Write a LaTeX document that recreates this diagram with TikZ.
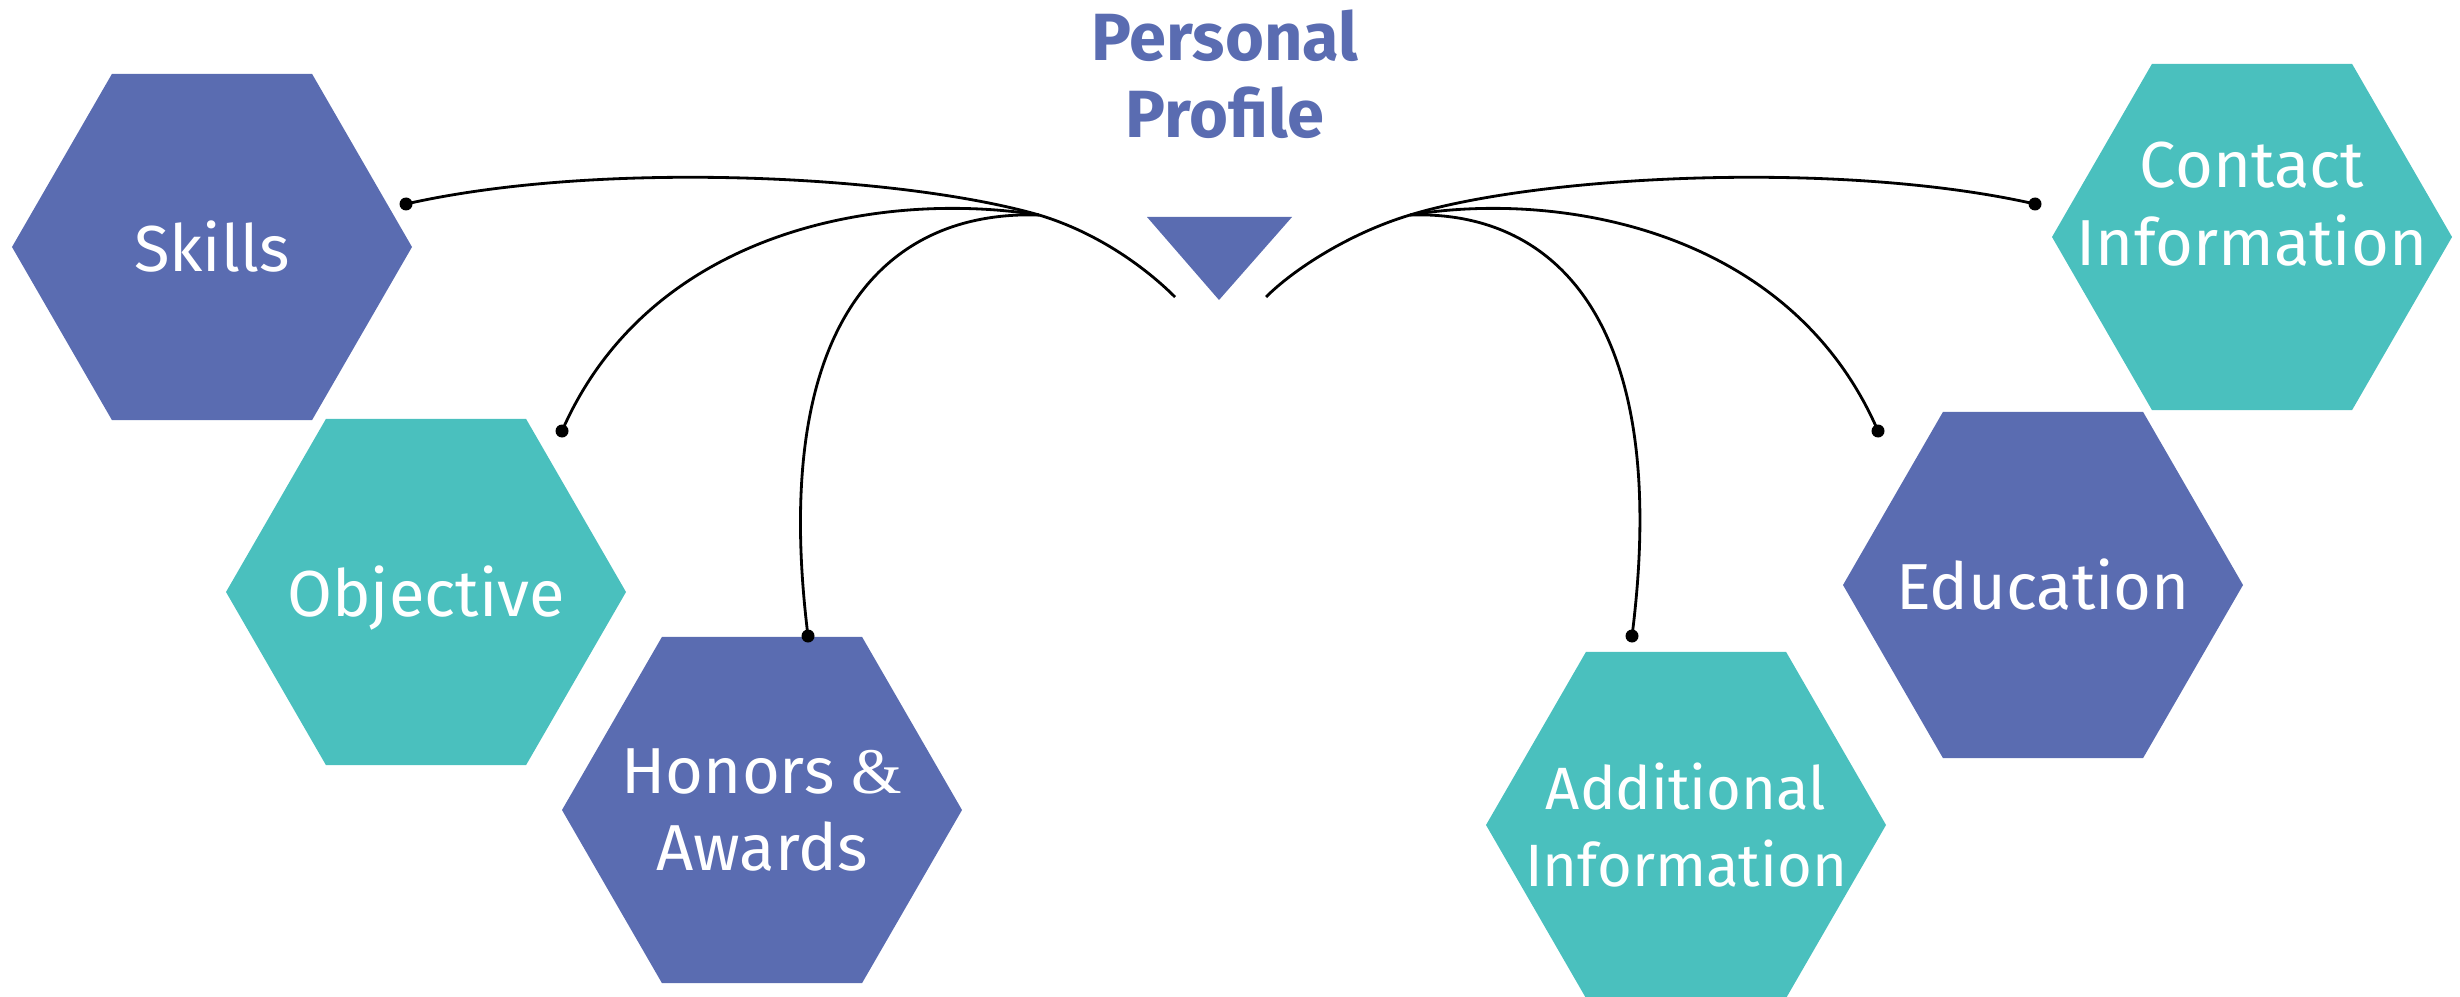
\documentclass[tikz,border=0pt]{standalone}
\usepackage{fontspec}
\setmainfont{Fira Sans}
\newfontfamily\ampfont{Liberation Serif}
\usetikzlibrary{shapes.geometric}

\definecolor{hexblue}{RGB}{90,108,177}
\definecolor{hexteal}{RGB}{74,192,190}

\tikzset{
	hexbox/.style={regular polygon, regular polygon sides=6, minimum size=4cm,
		inner sep=0pt, outer sep=0pt, draw=none},
	hextext/.style={text=white, align=center, font=\fontsize{18.5}{22}\selectfont},
	smalltext/.style={hextext, font=\fontsize{17}{22}\selectfont},
	titletext/.style={text=hexblue, align=center, font=\bfseries\fontsize{19}{22}\selectfont},
	link/.style={line width=0.8pt, black}
}

\begin{document}
\begin{tikzpicture}
			\useasboundingbox (0,0) rectangle (24.6,-9.96);
			% hexagons
			\node[hexbox, fill=hexblue, label={[hextext]center:Skills}] (skills) at (2.12,-2.47) {};
			\node[hexbox, fill=hexteal, label={[hextext, yshift=-0.06cm]center:Objective}] (objective) at (4.26,-5.92) {};
			\node[hexbox, fill=hexblue, label={[hextext]center:Honors {\ampfont\&}\\Awards}] (honors) at (7.62,-8.10) {};
			\node[hexbox, fill=hexteal, label={[smalltext]center:Additional\\Information}] (additional) at (16.86,-8.25) {};
			\node[hexbox, fill=hexblue, label={[hextext]center:Education}] (education) at (20.43,-5.85) {};
			\node[hexbox, fill=hexteal, label={[hextext, yshift=0.33cm]center:Contact\\Information}] (contact) at (22.52,-2.37) {};
			% title and marker
			\node[titletext] (profile) at (12.25,-0.74) {Personal\\Profile};
			\fill[hexblue] (11.47,-2.17) -- (12.92,-2.17) -- (12.19,-3.00) -- cycle;
			\coordinate (lft) at (11.75,-2.97);
			\coordinate (rgt) at (12.66,-2.97);
			\coordinate (ml) at (10.39,-2.15);
			\coordinate (mr) at (14.10,-2.15);
			% ends of the links
			\coordinate (dskills) at (4.06,-2.04);
			\coordinate (dobjective) at (5.62,-4.31);
			\coordinate (dhonors) at (8.08,-6.36);
			\coordinate (dadditional) at (16.32,-6.36);
			\coordinate (deducation) at (18.78,-4.31);
			\coordinate (dcontact) at (20.35,-2.04);
			% left links
			\draw[link] (ml) .. controls (10.99,-2.33) and (11.47,-2.69) .. (lft);
			\draw[link] (dskills) .. controls (6.00,-1.60) and (9.00,-1.75) .. (ml);
			\draw[link] (dobjective) .. controls (6.50,-2.30) and (8.80,-1.90) .. (ml);
			\draw[link] (dhonors) .. controls (7.70,-3.30) and (8.80,-2.10) .. (ml);
			% right links
			\draw[link] (mr) .. controls (13.50,-2.33) and (12.94,-2.69) .. (rgt);
			\draw[link] (dcontact) .. controls (18.41,-1.60) and (15.41,-1.75) .. (mr);
			\draw[link] (deducation) .. controls (17.91,-2.30) and (15.61,-1.90) .. (mr);
			\draw[link] (dadditional) .. controls (16.71,-3.30) and (15.61,-2.10) .. (mr);
			% dots
			\foreach \d in {dskills,dobjective,dhonors,dadditional,deducation,dcontact}
				\fill (\d) circle (0.065);
\end{tikzpicture}
\end{document}
